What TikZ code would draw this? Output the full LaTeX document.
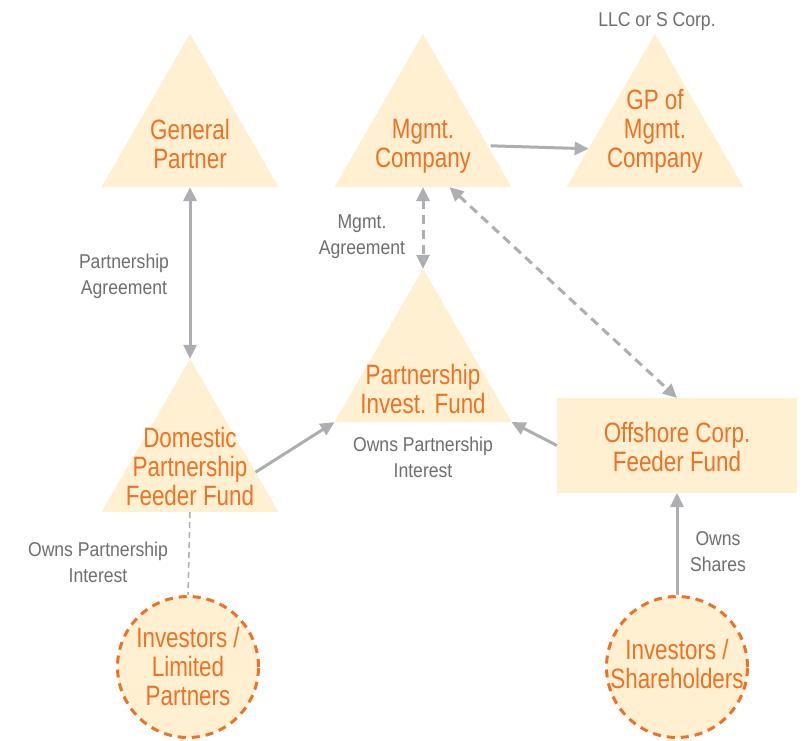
\documentclass[tikz,border=0pt]{standalone}
\usepackage{fontspec}
\setmainfont{Liberation Sans}
\newfontfamily\entityfont[FakeStretch=0.8]{Liberation Sans}
\newfontfamily\notefont[FakeStretch=0.88]{Liberation Sans}
\usepackage{xcolor}
\usepackage{tikz}
\usetikzlibrary{shapes.geometric,arrows.meta,calc}
\definecolor{fundfill}{HTML}{FEF0D0}
\definecolor{fundorange}{HTML}{EF7125}
\definecolor{linkgray}{HTML}{ACAEB1}
\definecolor{notegray}{HTML}{6D6E71}
\tikzstyle{tri} = [regular polygon, regular polygon sides=3, minimum size=204.4pt, inner sep=0pt, outer sep=0pt, fill=fundfill]
\tikzstyle{feeder} = [rectangle, fill=fundfill, minimum width=240pt, minimum height=95pt, inner sep=0pt, outer sep=0pt]
\tikzstyle{investor} = [circle, fill=fundfill, draw=fundorange, line width=3pt, dash pattern=on 8pt off 6pt, minimum size=141pt, inner sep=0pt, outer sep=1.5pt]
\tikzstyle{entity} = [text=fundorange, align=center, inner sep=0pt, font=\entityfont\fontsize{28}{29}\selectfont]
\tikzstyle{note} = [text=notegray, align=center, inner sep=0pt, font=\notefont\fontsize{20}{26}\selectfont]
\tikzstyle{line} = [draw=linkgray, line width=3pt, -{Triangle[length=14pt,width=13pt]}]
\tikzstyle{twoway} = [line, {Triangle[length=14pt,width=13pt]}-{Triangle[length=14pt,width=13pt]}]
\tikzstyle{dashline} = [twoway, dash pattern=on 9pt off 6pt]
\tikzstyle{thindash} = [draw=linkgray, line width=1.5pt, dash pattern=on 6pt off 4pt]

\begin{document}
\begin{tikzpicture}[x=1pt,y=-1pt]
\useasboundingbox (0,0) rectangle (808,741);
% top row
\node [tri] (gp) at (190,136) {};
\node [tri] (mgmt) at (423,136) {};
\node [tri] (gpm) at (655,136) {};
\node [entity] (gp-text) at (190,144) {General\\Partner};
\node [entity] (mgmt-text) at (423,146.5) {Mgmt.\\Company};
\node [entity] (gpm-text) at (655,131) {GP of\\Mgmt.\\Company};
\node [note] (llc) at (657,21.5) {LLC or S Corp.};
% funds
\node [tri] (pif) at (423,371) {};
\node [tri] (dom) at (190,461) {};
\node [feeder] (offshore) at (677,445.5) {};
\node [entity] (pif-text) at (423,389) {Partnership\\Invest. Fund};
\node [entity] (dom-text) at (190,466) {Domestic\\Partnership\\Feeder Fund};
\node [entity] (offshore-text) at (677,446.5) {Offshore Corp.\\Feeder Fund};
% investors
\node [investor] (inv-lp) at (188,667) {};
\node [investor] (inv-sh) at (677,667) {};
\node [entity] (inv-lp-text) at (188,666) {Investors /\\Limited\\Partners};
\node [entity] (inv-sh-text) at (677,664) {Investors /\\Shareholders};
% connectors
\path [twoway] (gp.side 2) -- (dom.corner 1);
\path [dashline] (mgmt.side 2) -- (pif.corner 1);
\path [line, shorten <=3pt] ($(mgmt.corner 1)!0.73!(mgmt.corner 3)$) -- ($(gpm.corner 1)!0.75!(gpm.corner 2)$);
\path [dashline] ($(mgmt.corner 2)!0.65!(mgmt.corner 3)$) -- (offshore.north);
\path [line] ($(dom.corner 1)!0.74!(dom.corner 3)$) -- (pif.corner 2);
\path [line] (offshore.west) -- (pif.corner 3);
\path [thindash] (dom.side 2) -- (inv-lp.north);
\path [line] (inv-sh.north) -- (offshore.south);
% labels
\node [note] (gp-agree) at (124,276.5) {Partnership\\Agreement};
\node [note] (mgmt-agree) at (362,236.5) {Mgmt.\\Agreement};
\node [note] (pif-owns) at (423,457) {Owns Partnership\\Interest};
\node [note] (lp-owns) at (98,562.5) {Owns Partnership\\Interest};
\node [note] (sh-owns) at (718,552) {Owns\\Shares};
\end{tikzpicture}
\end{document}
